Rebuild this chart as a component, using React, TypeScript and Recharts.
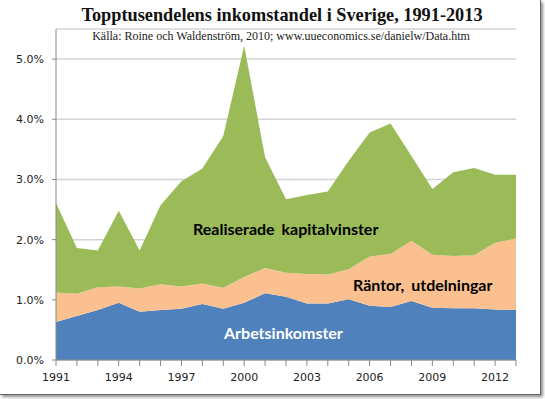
import React from 'react';
import { AreaChart, Area, XAxis, YAxis, CartesianGrid } from 'recharts';

const years = [1991, 1992, 1993, 1994, 1995, 1996, 1997, 1998, 1999, 2000, 2001, 2002, 2003, 2004, 2005, 2006, 2007, 2008, 2009, 2010, 2011, 2012, 2013];
const arbetsinkomster = [0.63, 0.73, 0.83, 0.95, 0.80, 0.83, 0.85, 0.93, 0.85, 0.95, 1.11, 1.05, 0.94, 0.94, 1.01, 0.90, 0.88, 0.98, 0.87, 0.86, 0.86, 0.84, 0.83];
const rantorUtdelningar = [0.49, 0.37, 0.38, 0.27, 0.39, 0.43, 0.37, 0.34, 0.35, 0.43, 0.42, 0.40, 0.49, 0.48, 0.50, 0.82, 0.88, 1.00, 0.88, 0.87, 0.88, 1.11, 1.19];
const kapitalvinster = [1.49, 0.76, 0.61, 1.26, 0.63, 1.31, 1.75, 1.91, 2.52, 3.84, 1.84, 1.22, 1.31, 1.38, 1.80, 2.06, 2.17, 1.41, 1.09, 1.39, 1.45, 1.13, 1.06];
const yTicks = [0, 1, 2, 3, 4, 5];
const xLabelYears = [1991, 1994, 1997, 2000, 2003, 2006, 2009, 2012];

const data = years.map((y, i) => ({
  year: y,
  arb: arbetsinkomster[i],
  ran: rantorUtdelningar[i],
  kap: kapitalvinster[i],
}));

const XTick = (props: any) => {
  const { x, y, payload } = props;
  const show = xLabelYears.includes(payload.value);
  return (
    <g>
      <line x1={x} x2={x} y1={y - 6} y2={y} stroke="#898989" strokeWidth={1} />
      {show && (
        <text x={x} y={y + 15} textAnchor="middle" fontFamily="DejaVu Sans" fontSize={11} fill="#222">
          {payload.value}
        </text>
      )}
    </g>
  );
};

export default function App() {
  return (
    <div style={{ position: 'absolute', left: 0, top: 0, width: 545, height: 399, background: '#fff', overflow: 'hidden' }}>
      <div style={{ position: 'absolute', left: 0, top: 0, width: 540, height: 394, borderRight: '1px solid #666', borderBottom: '1px solid #666', boxShadow: '2px 2px 3px rgba(0,0,0,0.45)' }} />
      <div style={{ position: 'absolute', left: 0, top: 5, width: 564, textAlign: 'center', fontFamily: 'Liberation Serif', fontWeight: 'bold', fontSize: 18.3, color: '#111', whiteSpace: 'nowrap' }}>
        Topptusendelens inkomstandel i Sverige, 1991-2013
      </div>
      <div style={{ position: 'absolute', left: 0, top: 29, width: 562, textAlign: 'center', fontFamily: 'Liberation Serif', fontSize: 12, color: '#222', whiteSpace: 'nowrap' }}>
        Källa: Roine och Waldenström, 2010; www.uueconomics.se/danielw/Data.htm
      </div>
      <div style={{ position: 'absolute', left: 0, top: 0 }}>
        <AreaChart width={545} height={399} data={data} margin={{ top: 29, right: 29, bottom: 0, left: 6 }}>
          <CartesianGrid vertical={false} stroke="#d4d4d4" strokeWidth={1.5} />
          <XAxis
            dataKey="year"
            interval={0}
            tickLine={false}
            tickSize={6}
            tickMargin={0}
            height={39}
            stroke="#898989"
            tick={<XTick />}
          />
          <YAxis
            domain={[0, 5.5]}
            ticks={yTicks}
            width={50}
            tickSize={4}
            tickMargin={8}
            stroke="#898989"
            tick={{ fontFamily: 'DejaVu Sans', fontSize: 11, fill: '#222' }}
            tickFormatter={(v: number) => v.toFixed(1) + '%'}
          />
          <Area type="linear" dataKey="arb" stackId="a" stroke="none" fill="#4F81BD" fillOpacity={1} isAnimationActive={false} />
          <Area type="linear" dataKey="ran" stackId="a" stroke="none" fill="#FAC090" fillOpacity={1} isAnimationActive={false} />
          <Area type="linear" dataKey="kap" stackId="a" stroke="none" fill="#9BBB59" fillOpacity={1} isAnimationActive={false} />
        </AreaChart>
      </div>
      <div style={{ position: 'absolute', left: 193, top: 219, fontFamily: 'Lato', fontWeight: 'bold', fontSize: 16, color: '#000', whiteSpace: 'nowrap', wordSpacing: 3 }}>
        Realiserade kapitalvinster
      </div>
      <div style={{ position: 'absolute', left: 353, top: 275, fontFamily: 'Lato', fontWeight: 'bold', fontSize: 16, color: '#000', whiteSpace: 'nowrap', wordSpacing: 3 }}>
        Räntor, utdelningar
      </div>
      <div style={{ position: 'absolute', left: 224, top: 323, fontFamily: 'Lato', fontWeight: 'bold', fontSize: 16, color: '#fff', whiteSpace: 'nowrap' }}>
        Arbetsinkomster
      </div>
    </div>
  );
}
